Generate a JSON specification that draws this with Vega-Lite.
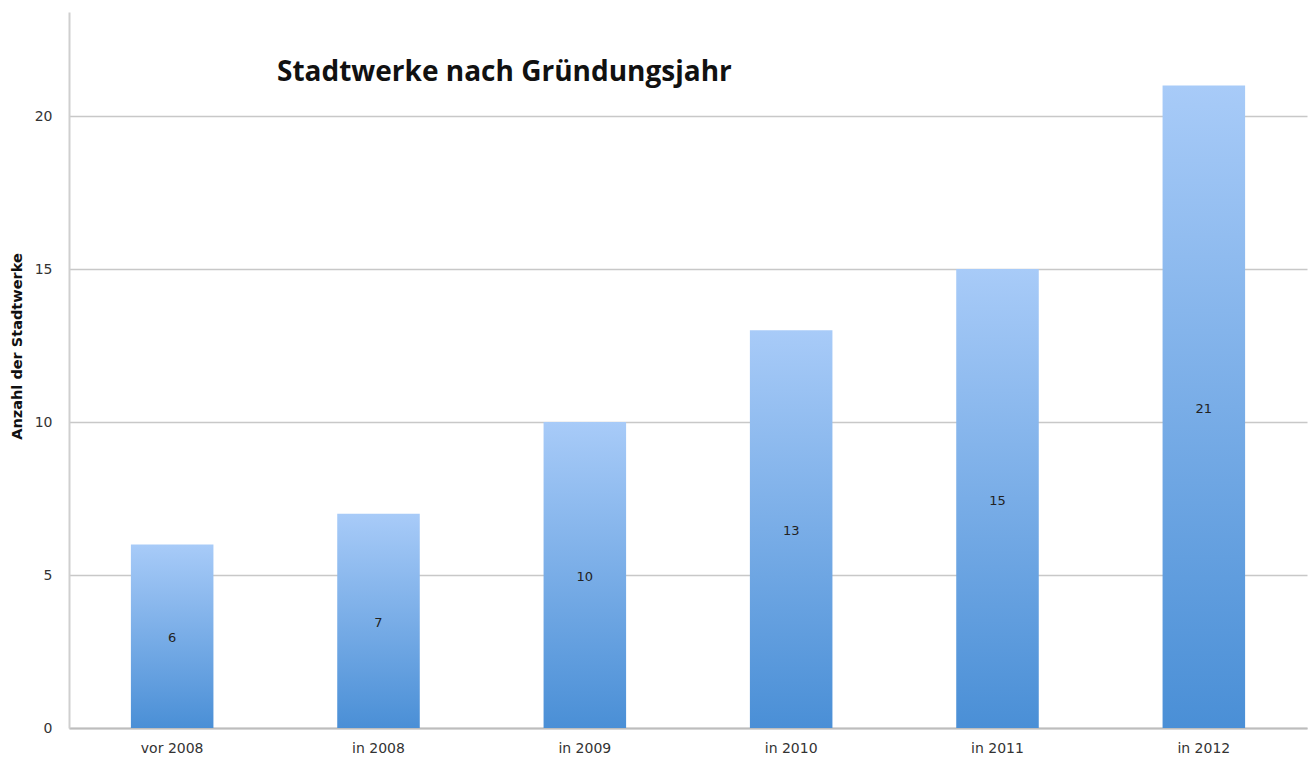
{
  "$schema": "https://vega.github.io/schema/vega-lite/v6.json",
  "width": 1238,
  "height": 716,
  "autosize": {"type": "none"},
  "padding": {"left": 69, "top": 12, "right": 1, "bottom": 34},
  "background": "white",
  "title": {
    "text": "Stadtwerke nach Gründungsjahr",
    "anchor": "start",
    "frame": "group",
    "dx": 208,
    "dy": 79,
    "font": "Open Sans",
    "fontSize": 28,
    "fontWeight": "bold",
    "color": "#111111"
  },
  "data": {
    "values": [
      {"jahr": "vor 2008", "anzahl": 6},
      {"jahr": "in 2008", "anzahl": 7},
      {"jahr": "in 2009", "anzahl": 10},
      {"jahr": "in 2010", "anzahl": 13},
      {"jahr": "in 2011", "anzahl": 15},
      {"jahr": "in 2012", "anzahl": 21}
    ]
  },
  "config": {
    "view": {"stroke": null},
    "font": "DejaVu Sans"
  },
  "encoding": {
    "x": {
      "field": "jahr",
      "type": "nominal",
      "sort": null,
      "scale": {"paddingInner": 0.6, "paddingOuter": 0.3},
      "axis": {
        "title": null,
        "labelAngle": 0,
        "ticks": false,
        "domain": true,
        "domainColor": "#bdbdbd",
        "domainWidth": 2,
        "labelPadding": 13,
        "labelFont": "DejaVu Sans",
        "labelFontSize": 14,
        "labelColor": "#333333"
      }
    }
  },
  "layer": [
    {
      "mark": {
        "type": "bar",
        "color": {
          "gradient": "linear",
          "x1": 0, "y1": 1, "x2": 0, "y2": 0,
          "stops": [
            {"offset": 0, "color": "#4a8fd6"},
            {"offset": 1, "color": "#a8cbf8"}
          ]
        }
      },
      "encoding": {
        "y": {
          "field": "anzahl",
          "type": "quantitative",
          "scale": {"domain": [0, 23.4], "nice": false},
          "axis": {
            "values": [0, 5, 10, 15, 20],
            "title": "Anzahl der Stadtwerke",
            "titleFont": "DejaVu Sans",
            "titleFontSize": 14.5,
            "titleFontWeight": "bold",
            "titleColor": "#111111",
            "titleX": -52,
            "titleY": 334,
            "titleAngle": 270,
            "titleAlign": "center",
            "titleBaseline": "middle",
            "ticks": false,
            "domain": true,
            "domainColor": "#cfcfcf",
            "domainWidth": 2,
            "grid": true,
            "gridColor": "#c8c8c8",
            "gridWidth": 1.5,
            "labelPadding": 17,
            "labelFont": "DejaVu Sans",
            "labelFontSize": 14,
            "labelColor": "#333333"
          }
        }
      }
    },
    {
      "transform": [{"calculate": "datum.anzahl / 2", "as": "mitte"}],
      "mark": {"type": "text", "font": "DejaVu Sans", "fontSize": 13, "color": "#222222", "baseline": "middle", "dy": 2},
      "encoding": {
        "y": {"field": "mitte", "type": "quantitative"},
        "text": {"field": "anzahl", "type": "quantitative"}
      }
    }
  ]
}
